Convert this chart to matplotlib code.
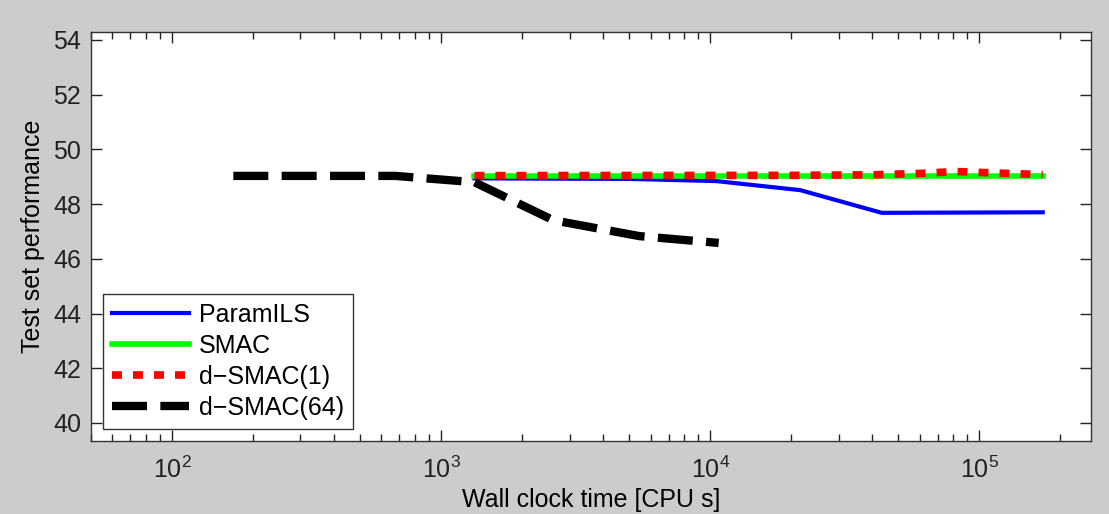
import matplotlib
matplotlib.use("Agg")
import matplotlib.pyplot as plt
from matplotlib.ticker import LogLocator, NullFormatter

plt.rcParams["font.family"] = ["Liberation Sans", "DejaVu Sans"]
plt.rcParams["mathtext.fontset"] = "custom"
plt.rcParams["mathtext.rm"] = "Liberation Sans"
plt.rcParams["mathtext.it"] = "Liberation Sans:italic"

# Curves (wall clock time in CPU s, test set performance)
paramils_t = [1330, 5000, 10550, 21600, 43400, 172000]
paramils_y = [48.94, 48.92, 48.84, 48.51, 47.68, 47.70]

smac_t = [1330, 172000]
smac_y = [49.03, 49.03]

dsmac1_t = [1330, 20000, 40000, 60000, 82000, 120000, 172000]
dsmac1_y = [49.04, 49.05, 49.07, 49.12, 49.19, 49.13, 49.08]

dsmac64_t = [169, 676, 1330, 2610, 5450, 10750]
dsmac64_y = [49.03, 49.03, 48.80, 47.41, 46.83, 46.58]

FS = 18

fig = plt.figure(figsize=(11.09, 5.14), dpi=100, facecolor="#cccccc")
ax = fig.add_axes([91 / 1109, 1 - 441 / 514, 1000 / 1109, 409 / 514])
ax.set_facecolor("white")

ax.plot(paramils_t, paramils_y, color="#0000ff", lw=3.0, label="ParamILS")
ax.plot(smac_t, smac_y, color="#00ff00", lw=4.0, label="SMAC")
ax.plot(dsmac1_t, dsmac1_y, color="#ff0000", lw=5.5, dashes=(1.3, 1.45),
        dash_capstyle="butt", label="d\u2212SMAC(1)")
ax.plot(dsmac64_t, dsmac64_y, color="black", lw=6.0, dashes=(4.2, 1.6),
        dash_capstyle="butt", label="d\u2212SMAC(64)")

ax.set_xscale("log")
ax.set_xlim(50, 2.6e5)
ax.set_ylim(39.34, 54.29)
ax.set_yticks([40, 42, 44, 46, 48, 50, 52, 54])
ax.xaxis.set_major_locator(LogLocator(base=10, numticks=10))
ax.xaxis.set_minor_locator(LogLocator(base=10, subs=range(2, 10), numticks=20))
ax.xaxis.set_minor_formatter(NullFormatter())

ax.tick_params(which="both", direction="in", top=True, right=True,
               labelsize=FS, colors="#222222", width=1)
ax.tick_params(which="major", length=8)
ax.tick_params(which="minor", length=5)
ax.tick_params(axis="y", which="major", pad=7)
ax.tick_params(axis="x", which="major", pad=11)
for s in ax.spines.values():
    s.set_color("#333333")
    s.set_linewidth(1.0)

ax.set_xlabel("Wall clock time [CPU s]", fontsize=FS, labelpad=4)
ax.set_ylabel("Test set performance", fontsize=FS, labelpad=6)

leg = ax.legend(loc="lower left", bbox_to_anchor=(0.004, 0.012), fontsize=FS,
                handlelength=3.1, handletextpad=0.4, labelspacing=0.28,
                borderpad=0.36, borderaxespad=0.3, fancybox=False, framealpha=1)
leg.get_frame().set_edgecolor("#333333")
leg.get_frame().set_linewidth(1.0)

fig.savefig("out.png", dpi=100, facecolor=fig.get_facecolor())
